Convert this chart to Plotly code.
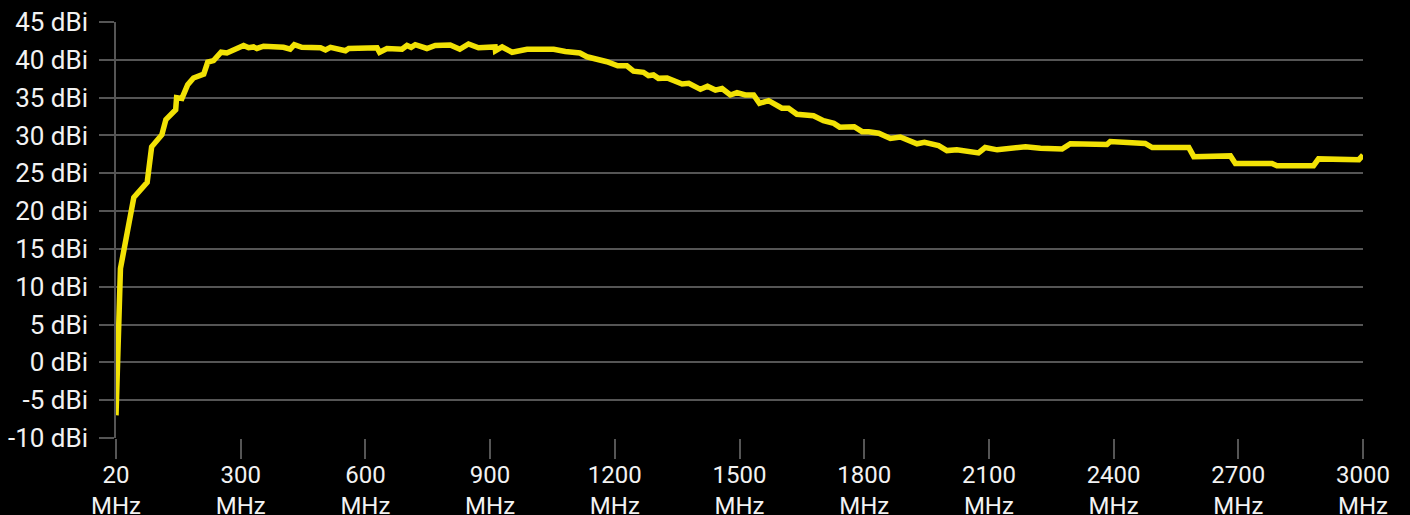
import numpy as np
import plotly.graph_objects as go

# Frequency (MHz) and gain (dBi)
freq_mhz = [20, 30, 60, 90, 100, 123, 132, 154, 156, 168, 181, 194, 217, 226, 239, 256, 269,
            307, 319, 331, 339, 355, 403, 419, 429, 447, 492, 504, 516, 552, 560, 628, 634,
            652, 688, 700, 710, 720, 748, 768, 804, 827, 848, 872, 912, 913, 929, 953, 989,
            1053, 1081, 1116, 1133, 1181, 1207, 1229, 1245, 1269, 1281, 1293, 1305, 1326,
            1362, 1378, 1406, 1423, 1442, 1458, 1478, 1494, 1514, 1534, 1548, 1570, 1602,
            1618, 1638, 1678, 1702, 1727, 1741, 1776, 1795, 1811, 1835, 1863, 1887, 1903,
            1927, 1945, 1979, 1999, 2023, 2075, 2091, 2120, 2188, 2224, 2276, 2296, 2384,
            2392, 2476, 2493, 2581, 2593, 2681, 2693, 2781, 2793, 2881, 2893, 2990, 3000]
gain_dbi = [-7.0, 12.4, 21.8, 23.8, 28.5, 30.1, 32.1, 33.4, 35.0, 34.9, 36.7, 37.6, 38.1, 39.7, 39.9, 41.0, 40.9,
            41.9, 41.6, 41.7, 41.5, 41.8, 41.65, 41.4, 42.0, 41.65, 41.6, 41.3, 41.65, 41.2, 41.5, 41.6, 41.0,
            41.5, 41.4, 41.9, 41.65, 42.0, 41.5, 41.9, 41.95, 41.4, 42.1, 41.6, 41.7, 41.2, 41.7, 41.0, 41.4,
            41.4, 41.1, 40.9, 40.4, 39.75, 39.2, 39.2, 38.5, 38.35, 37.9, 38.0, 37.55, 37.6,
            36.8, 36.9, 36.1, 36.5, 36.0, 36.2, 35.35, 35.65, 35.35, 35.35, 34.25, 34.6, 33.6,
            33.6, 32.8, 32.6, 31.95, 31.6, 31.1, 31.15, 30.5, 30.5, 30.3, 29.6, 29.8, 29.5,
            28.9, 29.1, 28.65, 28.0, 28.1, 27.7, 28.4, 28.1, 28.5, 28.3, 28.2, 28.9, 28.8,
            29.2, 28.95, 28.4, 28.4, 27.2, 27.3, 26.3, 26.3, 26.0, 26.0, 26.9, 26.8, 27.4]

tick_freqs = [20, 300, 600, 900, 1200, 1500, 1800, 2100, 2400, 2700, 3000]
tick_labels = [f"{f}<br>MHz" for f in tick_freqs]
y_ticks = list(range(-10, 50, 5))

# Category-style axis: ticks equally spaced, data placed between labelled ticks
tick_pos = np.arange(len(tick_freqs))
x_pos = np.interp(freq_mhz, tick_freqs, tick_pos)

fig = go.Figure()
fig.add_trace(go.Scatter(
    x=x_pos, y=gain_dbi, mode="lines",
    line=dict(color="#f2e205", width=5.5),
    hoverinfo="skip", showlegend=False,
))

grid = "#555555"
fig.update_layout(
    width=1410, height=515,
    paper_bgcolor="#000000", plot_bgcolor="#000000",
    margin=dict(l=116, r=47, t=22, b=77),
    font=dict(family="Roboto", size=26, color="#f2f2f2"),
    xaxis=dict(
        range=[0, len(tick_freqs) - 1], automargin=False,
        tickmode="array", tickvals=tick_pos, ticktext=tick_labels,
        showgrid=False, zeroline=False, showline=False,
        ticks="outside", ticklen=20, tickcolor=grid, tickwidth=1.5,
        ticklabelstandoff=-5,
        tickfont=dict(size=24, color="#f2f2f2"),
    ),
    yaxis=dict(
        range=[-10, 45], automargin=False,
        tickmode="array", tickvals=y_ticks,
        ticktext=[f"{v} dBi" for v in y_ticks],
        showgrid=True, gridcolor=grid, gridwidth=1.5,
        zeroline=False,
        showline=True, linecolor=grid, linewidth=1.5,
        ticks="outside", ticklen=15, tickcolor=grid, tickwidth=1.5,
        ticklabelstandoff=6,
        tickfont=dict(size=26, color="#f2f2f2"),
    ),
)

fig.write_html(
    "out.html",
    config={"displayModeBar": False},
    post_script="document.body.style.margin='0';document.body.style.background='#000';"
                "document.body.style.overflow='hidden';",
)
